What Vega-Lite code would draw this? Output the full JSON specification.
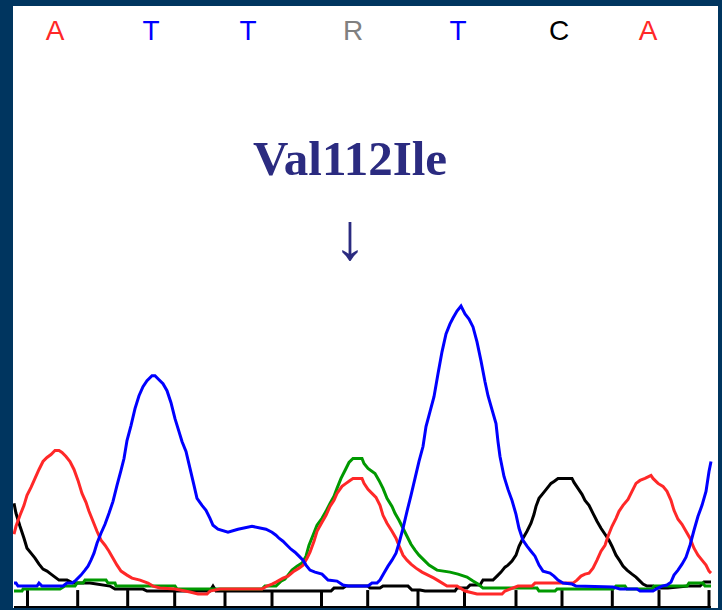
{
  "$schema": "https://vega.github.io/schema/vega-lite/v6.json",
  "width": 722,
  "height": 610,
  "autosize": {"type": "fit", "contains": "padding"},
  "padding": {"left": 13, "top": 6, "right": 4, "bottom": 0},
  "background": "#00355f",
  "config": {
    "view": {"stroke": null, "fill": "#ffffff"},
    "axis": {"disable": true},
    "legend": {"disable": true}
  },
  "datasets": {
    "ticks": [
      {"tick": 27.5}, {"tick": 77.7}, {"tick": 127.7}, {"tick": 174.7}, {"tick": 225},
      {"tick": 272}, {"tick": 321.5}, {"tick": 367.7}, {"tick": 418}, {"tick": 464.5},
      {"tick": 516}, {"tick": 562}, {"tick": 612.3}, {"tick": 659}, {"tick": 709}
    ],
    "letters": [
      {"base": "A", "pos": 55}, {"base": "T", "pos": 151}, {"base": "T", "pos": 248},
      {"base": "R", "pos": 353}, {"base": "T", "pos": 458}, {"base": "C", "pos": 559},
      {"base": "A", "pos": 648}
    ],
    "traces": [
      {"base":"C","x":14,"y":105},{"base":"C","x":16,"y":95},{"base":"C","x":20,"y":82},{"base":"C","x":24,"y":70},{"base":"C","x":27,"y":60},{"base":"C","x":31,"y":55},{"base":"C","x":35,"y":50},{"base":"C","x":39,"y":44},{"base":"C","x":43,"y":39},{"base":"C","x":47,"y":37},{"base":"C","x":51,"y":34},{"base":"C","x":55,"y":31},{"base":"C","x":59,"y":28},{"base":"C","x":67,"y":28},{"base":"C","x":73,"y":25},{"base":"C","x":90,"y":25},{"base":"C","x":110,"y":22},{"base":"C","x":115,"y":19},{"base":"C","x":143,"y":19},{"base":"C","x":147,"y":17},{"base":"C","x":210,"y":17},{"base":"C","x":213,"y":22},{"base":"C","x":216,"y":17},{"base":"C","x":262,"y":17},{"base":"C","x":331,"y":17},{"base":"C","x":334,"y":20},{"base":"C","x":343,"y":20},{"base":"C","x":346,"y":22},{"base":"C","x":368,"y":22},{"base":"C","x":370,"y":20},{"base":"C","x":380,"y":20},{"base":"C","x":383,"y":22},{"base":"C","x":408,"y":22},{"base":"C","x":412,"y":18},{"base":"C","x":420,"y":18},{"base":"C","x":425,"y":17},{"base":"C","x":455,"y":17},{"base":"C","x":457,"y":20},{"base":"C","x":467,"y":20},{"base":"C","x":470,"y":23},{"base":"C","x":480,"y":23},{"base":"C","x":483,"y":28},{"base":"C","x":493,"y":28},{"base":"C","x":497,"y":32},{"base":"C","x":501,"y":36},{"base":"C","x":505,"y":41},{"base":"C","x":508,"y":43},{"base":"C","x":512,"y":47},{"base":"C","x":516,"y":53},{"base":"C","x":519,"y":62},{"base":"C","x":523,"y":70},{"base":"C","x":527,"y":77},{"base":"C","x":531,"y":85},{"base":"C","x":534,"y":94},{"base":"C","x":536,"y":102},{"base":"C","x":539,"y":110},{"base":"C","x":543,"y":115},{"base":"C","x":547,"y":120},{"base":"C","x":551,"y":125},{"base":"C","x":554,"y":127},{"base":"C","x":558,"y":130},{"base":"C","x":572,"y":130},{"base":"C","x":574,"y":126},{"base":"C","x":578,"y":120},{"base":"C","x":582,"y":114},{"base":"C","x":585,"y":108},{"base":"C","x":589,"y":103},{"base":"C","x":593,"y":95},{"base":"C","x":597,"y":87},{"base":"C","x":601,"y":80},{"base":"C","x":605,"y":74},{"base":"C","x":609,"y":68},{"base":"C","x":612,"y":62},{"base":"C","x":616,"y":53},{"base":"C","x":620,"y":47},{"base":"C","x":623,"y":42},{"base":"C","x":627,"y":38},{"base":"C","x":632,"y":34},{"base":"C","x":636,"y":31},{"base":"C","x":639,"y":28},{"base":"C","x":643,"y":24},{"base":"C","x":647,"y":22},{"base":"C","x":653,"y":22},{"base":"C","x":657,"y":20},{"base":"C","x":668,"y":20},{"base":"C","x":688,"y":22},{"base":"C","x":700,"y":22},{"base":"C","x":704,"y":26},{"base":"C","x":711,"y":26},

      {"base":"G","x":14,"y":17},{"base":"G","x":22,"y":17},{"base":"G","x":23,"y":19},{"base":"G","x":60,"y":19},{"base":"G","x":65,"y":22},{"base":"G","x":75,"y":22},{"base":"G","x":77,"y":25},{"base":"G","x":83,"y":25},{"base":"G","x":85,"y":28},{"base":"G","x":106,"y":28},{"base":"G","x":108,"y":25},{"base":"G","x":115,"y":25},{"base":"G","x":116,"y":22},{"base":"G","x":175,"y":22},{"base":"G","x":177,"y":19},{"base":"G","x":262,"y":19},{"base":"G","x":265,"y":22},{"base":"G","x":276,"y":22},{"base":"G","x":281,"y":27},{"base":"G","x":285,"y":29},{"base":"G","x":288,"y":33},{"base":"G","x":292,"y":38},{"base":"G","x":297,"y":42},{"base":"G","x":302,"y":45},{"base":"G","x":306,"y":52},{"base":"G","x":309,"y":63},{"base":"G","x":313,"y":73},{"base":"G","x":317,"y":83},{"base":"G","x":322,"y":90},{"base":"G","x":326,"y":97},{"base":"G","x":330,"y":105},{"base":"G","x":334,"y":112},{"base":"G","x":337,"y":120},{"base":"G","x":341,"y":130},{"base":"G","x":345,"y":138},{"base":"G","x":349,"y":146},{"base":"G","x":353,"y":150},{"base":"G","x":362,"y":150},{"base":"G","x":364,"y":145},{"base":"G","x":368,"y":140},{"base":"G","x":375,"y":135},{"base":"G","x":379,"y":128},{"base":"G","x":383,"y":120},{"base":"G","x":387,"y":110},{"base":"G","x":392,"y":102},{"base":"G","x":395,"y":95},{"base":"G","x":399,"y":88},{"base":"G","x":403,"y":80},{"base":"G","x":407,"y":72},{"base":"G","x":411,"y":64},{"base":"G","x":415,"y":58},{"base":"G","x":419,"y":53},{"base":"G","x":424,"y":48},{"base":"G","x":429,"y":43},{"base":"G","x":437,"y":38},{"base":"G","x":450,"y":36},{"base":"G","x":458,"y":34},{"base":"G","x":467,"y":31},{"base":"G","x":473,"y":27},{"base":"G","x":478,"y":24},{"base":"G","x":483,"y":20},{"base":"G","x":537,"y":20},{"base":"G","x":539,"y":17},{"base":"G","x":555,"y":17},{"base":"G","x":557,"y":19},{"base":"G","x":613,"y":19},{"base":"G","x":616,"y":22},{"base":"G","x":625,"y":22},{"base":"G","x":627,"y":19},{"base":"G","x":652,"y":19},{"base":"G","x":654,"y":22},{"base":"G","x":687,"y":22},{"base":"G","x":689,"y":25},{"base":"G","x":703,"y":25},{"base":"G","x":705,"y":22},{"base":"G","x":711,"y":22},

      {"base":"A","x":14,"y":74},{"base":"A","x":16,"y":82},{"base":"A","x":20,"y":93},{"base":"A","x":24,"y":103},{"base":"A","x":27,"y":113},{"base":"A","x":31,"y":121},{"base":"A","x":35,"y":130},{"base":"A","x":39,"y":139},{"base":"A","x":43,"y":147},{"base":"A","x":47,"y":151},{"base":"A","x":51,"y":154},{"base":"A","x":55,"y":158},{"base":"A","x":59,"y":158},{"base":"A","x":62,"y":156},{"base":"A","x":66,"y":152},{"base":"A","x":70,"y":147},{"base":"A","x":74,"y":139},{"base":"A","x":78,"y":128},{"base":"A","x":82,"y":115},{"base":"A","x":86,"y":106},{"base":"A","x":89,"y":97},{"base":"A","x":93,"y":87},{"base":"A","x":97,"y":77},{"base":"A","x":101,"y":68},{"base":"A","x":105,"y":63},{"base":"A","x":109,"y":57},{"base":"A","x":113,"y":50},{"base":"A","x":117,"y":43},{"base":"A","x":121,"y":37},{"base":"A","x":127,"y":33},{"base":"A","x":132,"y":30},{"base":"A","x":140,"y":28},{"base":"A","x":148,"y":25},{"base":"A","x":153,"y":22},{"base":"A","x":160,"y":20},{"base":"A","x":175,"y":19},{"base":"A","x":190,"y":16},{"base":"A","x":198,"y":14},{"base":"A","x":207,"y":14},{"base":"A","x":210,"y":17},{"base":"A","x":220,"y":19},{"base":"A","x":262,"y":19},{"base":"A","x":267,"y":22},{"base":"A","x":272,"y":24},{"base":"A","x":276,"y":26},{"base":"A","x":283,"y":30},{"base":"A","x":288,"y":32},{"base":"A","x":294,"y":37},{"base":"A","x":299,"y":40},{"base":"A","x":303,"y":43},{"base":"A","x":307,"y":50},{"base":"A","x":310,"y":56},{"base":"A","x":314,"y":67},{"base":"A","x":317,"y":77},{"base":"A","x":322,"y":86},{"base":"A","x":326,"y":93},{"base":"A","x":330,"y":102},{"base":"A","x":334,"y":108},{"base":"A","x":337,"y":115},{"base":"A","x":342,"y":122},{"base":"A","x":346,"y":125},{"base":"A","x":350,"y":128},{"base":"A","x":353,"y":130},{"base":"A","x":362,"y":130},{"base":"A","x":364,"y":125},{"base":"A","x":368,"y":119},{"base":"A","x":372,"y":115},{"base":"A","x":376,"y":111},{"base":"A","x":380,"y":103},{"base":"A","x":383,"y":93},{"base":"A","x":387,"y":85},{"base":"A","x":392,"y":77},{"base":"A","x":396,"y":70},{"base":"A","x":400,"y":60},{"base":"A","x":403,"y":53},{"base":"A","x":407,"y":48},{"base":"A","x":411,"y":44},{"base":"A","x":416,"y":40},{"base":"A","x":422,"y":36},{"base":"A","x":428,"y":33},{"base":"A","x":434,"y":30},{"base":"A","x":439,"y":27},{"base":"A","x":447,"y":22},{"base":"A","x":457,"y":22},{"base":"A","x":465,"y":17},{"base":"A","x":477,"y":14},{"base":"A","x":502,"y":14},{"base":"A","x":505,"y":17},{"base":"A","x":518,"y":22},{"base":"A","x":532,"y":22},{"base":"A","x":535,"y":25},{"base":"A","x":573,"y":25},{"base":"A","x":577,"y":28},{"base":"A","x":581,"y":32},{"base":"A","x":585,"y":34},{"base":"A","x":589,"y":35},{"base":"A","x":593,"y":40},{"base":"A","x":597,"y":48},{"base":"A","x":601,"y":57},{"base":"A","x":605,"y":63},{"base":"A","x":608,"y":72},{"base":"A","x":612,"y":82},{"base":"A","x":616,"y":90},{"base":"A","x":619,"y":97},{"base":"A","x":623,"y":103},{"base":"A","x":628,"y":109},{"base":"A","x":632,"y":117},{"base":"A","x":636,"y":125},{"base":"A","x":640,"y":128},{"base":"A","x":645,"y":130},{"base":"A","x":651,"y":133},{"base":"A","x":653,"y":130},{"base":"A","x":658,"y":125},{"base":"A","x":663,"y":122},{"base":"A","x":667,"y":117},{"base":"A","x":671,"y":108},{"base":"A","x":674,"y":98},{"base":"A","x":678,"y":89},{"base":"A","x":682,"y":84},{"base":"A","x":686,"y":77},{"base":"A","x":690,"y":70},{"base":"A","x":694,"y":60},{"base":"A","x":698,"y":53},{"base":"A","x":702,"y":48},{"base":"A","x":706,"y":43},{"base":"A","x":709,"y":37},{"base":"A","x":711,"y":35},

      {"base":"T","x":14,"y":25},{"base":"T","x":16,"y":25},{"base":"T","x":18,"y":22},{"base":"T","x":37,"y":22},{"base":"T","x":39,"y":25},{"base":"T","x":42,"y":22},{"base":"T","x":63,"y":22},{"base":"T","x":67,"y":25},{"base":"T","x":72,"y":25},{"base":"T","x":76,"y":28},{"base":"T","x":81,"y":33},{"base":"T","x":85,"y":38},{"base":"T","x":88,"y":42},{"base":"T","x":91,"y":48},{"base":"T","x":94,"y":55},{"base":"T","x":97,"y":65},{"base":"T","x":101,"y":75},{"base":"T","x":105,"y":84},{"base":"T","x":109,"y":95},{"base":"T","x":113,"y":107},{"base":"T","x":117,"y":123},{"base":"T","x":121,"y":138},{"base":"T","x":124,"y":150},{"base":"T","x":127,"y":168},{"base":"T","x":131,"y":183},{"base":"T","x":135,"y":200},{"base":"T","x":139,"y":213},{"base":"T","x":143,"y":222},{"base":"T","x":147,"y":228},{"base":"T","x":152,"y":233},{"base":"T","x":155,"y":233},{"base":"T","x":159,"y":229},{"base":"T","x":163,"y":225},{"base":"T","x":167,"y":218},{"base":"T","x":171,"y":206},{"base":"T","x":175,"y":190},{"base":"T","x":179,"y":177},{"base":"T","x":182,"y":167},{"base":"T","x":186,"y":157},{"base":"T","x":190,"y":140},{"base":"T","x":194,"y":123},{"base":"T","x":197,"y":110},{"base":"T","x":202,"y":103},{"base":"T","x":206,"y":98},{"base":"T","x":210,"y":90},{"base":"T","x":213,"y":83},{"base":"T","x":218,"y":79},{"base":"T","x":228,"y":76},{"base":"T","x":238,"y":79},{"base":"T","x":252,"y":82},{"base":"T","x":266,"y":79},{"base":"T","x":272,"y":76},{"base":"T","x":276,"y":73},{"base":"T","x":279,"y":70},{"base":"T","x":283,"y":67},{"base":"T","x":287,"y":63},{"base":"T","x":291,"y":59},{"base":"T","x":295,"y":56},{"base":"T","x":298,"y":53},{"base":"T","x":303,"y":48},{"base":"T","x":306,"y":43},{"base":"T","x":310,"y":38},{"base":"T","x":315,"y":36},{"base":"T","x":322,"y":34},{"base":"T","x":328,"y":28},{"base":"T","x":337,"y":27},{"base":"T","x":343,"y":23},{"base":"T","x":348,"y":22},{"base":"T","x":368,"y":22},{"base":"T","x":372,"y":25},{"base":"T","x":377,"y":25},{"base":"T","x":380,"y":28},{"base":"T","x":384,"y":35},{"base":"T","x":388,"y":42},{"base":"T","x":392,"y":48},{"base":"T","x":396,"y":55},{"base":"T","x":399,"y":65},{"base":"T","x":403,"y":80},{"base":"T","x":407,"y":97},{"base":"T","x":411,"y":113},{"base":"T","x":415,"y":130},{"base":"T","x":419,"y":147},{"base":"T","x":423,"y":162},{"base":"T","x":426,"y":182},{"base":"T","x":430,"y":197},{"base":"T","x":434,"y":212},{"base":"T","x":438,"y":235},{"base":"T","x":442,"y":257},{"base":"T","x":446,"y":275},{"base":"T","x":450,"y":285},{"base":"T","x":453,"y":291},{"base":"T","x":457,"y":298},{"base":"T","x":461,"y":303},{"base":"T","x":465,"y":295},{"base":"T","x":469,"y":290},{"base":"T","x":473,"y":282},{"base":"T","x":477,"y":267},{"base":"T","x":481,"y":248},{"base":"T","x":485,"y":227},{"base":"T","x":488,"y":213},{"base":"T","x":492,"y":199},{"base":"T","x":496,"y":185},{"base":"T","x":498,"y":167},{"base":"T","x":500,"y":152},{"base":"T","x":504,"y":132},{"base":"T","x":508,"y":119},{"base":"T","x":512,"y":108},{"base":"T","x":516,"y":94},{"base":"T","x":519,"y":80},{"base":"T","x":523,"y":68},{"base":"T","x":527,"y":62},{"base":"T","x":531,"y":57},{"base":"T","x":535,"y":52},{"base":"T","x":539,"y":43},{"base":"T","x":543,"y":37},{"base":"T","x":550,"y":35},{"base":"T","x":554,"y":32},{"base":"T","x":558,"y":28},{"base":"T","x":563,"y":25},{"base":"T","x":572,"y":24},{"base":"T","x":576,"y":22},{"base":"T","x":613,"y":21},{"base":"T","x":620,"y":19},{"base":"T","x":637,"y":19},{"base":"T","x":640,"y":17},{"base":"T","x":653,"y":17},{"base":"T","x":658,"y":20},{"base":"T","x":662,"y":22},{"base":"T","x":667,"y":23},{"base":"T","x":671,"y":26},{"base":"T","x":674,"y":33},{"base":"T","x":678,"y":38},{"base":"T","x":682,"y":44},{"base":"T","x":686,"y":51},{"base":"T","x":690,"y":63},{"base":"T","x":694,"y":78},{"base":"T","x":698,"y":92},{"base":"T","x":702,"y":103},{"base":"T","x":706,"y":117},{"base":"T","x":709,"y":137},{"base":"T","x":711,"y":147}
    ]
  },
  "layer": [
    {
      "data": {"name": "ticks"},
      "mark": {"type": "rule", "color": "#000000", "strokeWidth": 3},
      "encoding": {
        "x": {"field": "tick", "type": "quantitative", "scale": {"domain": [13, 718], "nice": false, "zero": false}, "axis": null},
        "y": {"datum": 0, "type": "quantitative", "scale": {"domain": [0, 604], "nice": false, "zero": false}, "axis": null},
        "y2": {"datum": 18}
      }
    },
    {
      "data": {"values": [{"line": "baseline"}]},
      "mark": {"type": "rule", "color": "#000000", "strokeWidth": 2},
      "encoding": {
        "x": {"datum": 14, "type": "quantitative"},
        "x2": {"datum": 711},
        "y": {"datum": 1, "type": "quantitative"}
      }
    },
    {
      "data": {"name": "traces"},
      "transform": [{"filter": "datum.base === 'C'"}],
      "mark": {"type": "line", "strokeWidth": 3, "clip": true},
      "encoding": {
        "x": {"field": "x", "type": "quantitative"},
        "y": {"field": "y", "type": "quantitative"},
        "color": {"field": "base", "type": "nominal", "scale": {"domain": ["A", "C", "G", "T", "R"], "range": ["#ff2828", "#000000", "#009900", "#0000ff", "#808080"]}, "legend": null}
      }
    },
    {
      "data": {"name": "traces"},
      "transform": [{"filter": "datum.base === 'G'"}],
      "mark": {"type": "line", "strokeWidth": 3, "clip": true},
      "encoding": {
        "x": {"field": "x", "type": "quantitative"},
        "y": {"field": "y", "type": "quantitative"},
        "color": {"field": "base", "type": "nominal", "legend": null}
      }
    },
    {
      "data": {"name": "traces"},
      "transform": [{"filter": "datum.base === 'A'"}],
      "mark": {"type": "line", "strokeWidth": 3, "clip": true},
      "encoding": {
        "x": {"field": "x", "type": "quantitative"},
        "y": {"field": "y", "type": "quantitative"},
        "color": {"field": "base", "type": "nominal", "legend": null}
      }
    },
    {
      "data": {"name": "traces"},
      "transform": [{"filter": "datum.base === 'T'"}],
      "mark": {"type": "line", "strokeWidth": 3, "clip": true},
      "encoding": {
        "x": {"field": "x", "type": "quantitative"},
        "y": {"field": "y", "type": "quantitative"},
        "color": {"field": "base", "type": "nominal", "legend": null}
      }
    },
    {
      "data": {"name": "letters"},
      "mark": {"type": "text", "font": "Liberation Sans", "fontSize": 28, "align": "center", "baseline": "alphabetic"},
      "encoding": {
        "x": {"field": "pos", "type": "quantitative"},
        "y": {"datum": 570, "type": "quantitative"},
        "text": {"field": "base"},
        "color": {"field": "base", "type": "nominal", "legend": null}
      }
    },
    {
      "data": {"values": [{"label": "Val112Ile"}]},
      "mark": {"type": "text", "font": "Liberation Serif", "fontWeight": "bold", "fontSize": 49, "align": "center", "baseline": "alphabetic", "color": "#2b2b80"},
      "encoding": {
        "x": {"datum": 350, "type": "quantitative"},
        "y": {"datum": 434, "type": "quantitative"},
        "text": {"field": "label"}
      }
    },
    {
      "data": {"values": [{"label": "↓"}]},
      "mark": {"type": "text", "font": "Liberation Serif", "fontSize": 66, "align": "center", "baseline": "middle", "color": "#2b2b80"},
      "encoding": {
        "x": {"datum": 350, "type": "quantitative"},
        "y": {"datum": 370, "type": "quantitative"},
        "text": {"field": "label"}
      }
    }
  ]
}
